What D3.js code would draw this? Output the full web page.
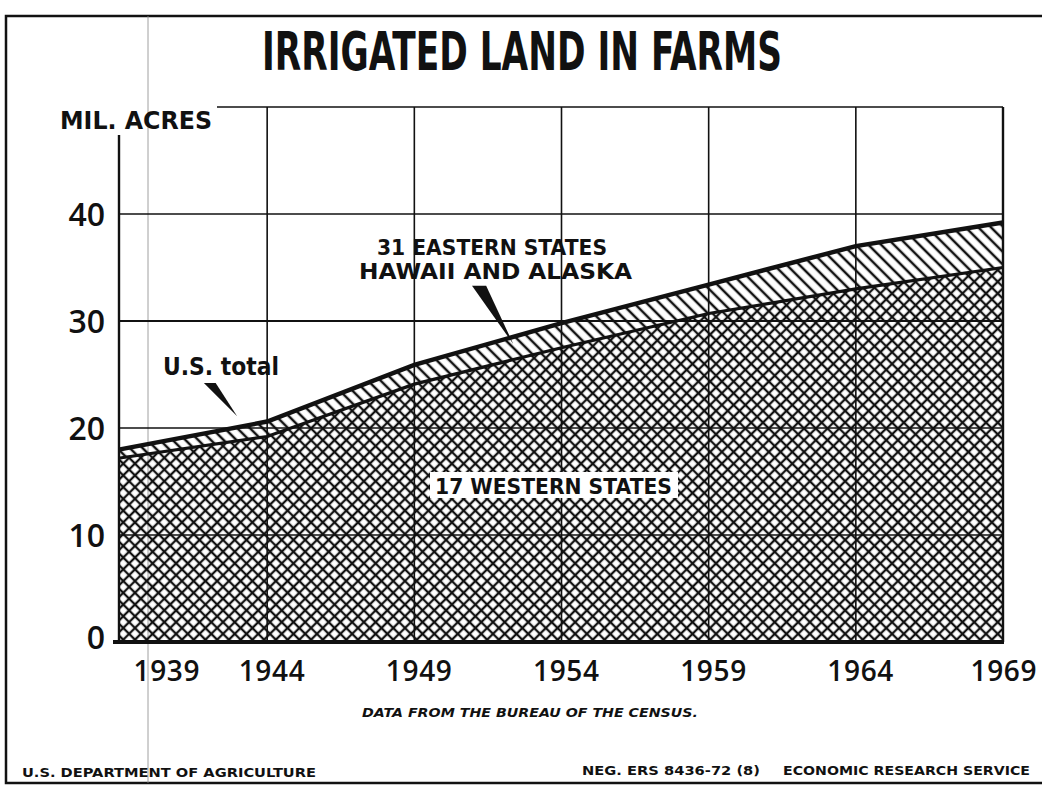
<!DOCTYPE html>
<html>
<head>
<meta charset="utf-8">
<script src="https://cdn.jsdelivr.net/npm/d3@7"></script>
<style>
  body { margin: 0; background: #fff; }
  svg { display: block; }
  text { fill: #111; }
</style>
</head>
<body>
<svg id="chart" width="1042" height="789"></svg>
<script>
// census years and acreage (million acres)
var years = [1939, 1944, 1949, 1954, 1959, 1964, 1969];
var usTotal = [18.0, 20.6, 25.9, 29.8, 33.4, 37.0, 39.2];
var western = [17.2, 19.2, 24.1, 27.5, 30.7, 33.0, 35.0];
var yTicks = [0, 10, 20, 30, 40];
var gridValues = [10, 20, 30, 40, 50];

// annotation pointers, in [year, value]
var totalPointer = [[1941.85, 24.2], [1942.25, 24.2], [1942.98, 21.1]];
var easternPointer = [[1950.96, 33.3], [1951.44, 33.3], [1952.36, 27.85]];

var svg = d3.select("#chart");

var x = d3.scaleLinear().domain([1939, 1969]).range([120, 1003]);
var y = d3.scaleLinear().domain([0, 50]).range([642, 107]);

var data = years.map(function(d, i) {
    return {year: d, total: usTotal[i], west: western[i]};
});

// patterns
var defs = svg.append("defs");
var cs = 8.3, cw = 2.3;
var cross = defs.append("pattern")
    .attr("id", "cross")
    .attr("patternUnits", "userSpaceOnUse")
    .attr("width", cs).attr("height", cs)
    .attr("patternTransform", "rotate(45)");
[0, cs].forEach(function(p) {
    cross.append("line").attr("x1", p).attr("y1", -1).attr("x2", p).attr("y2", cs + 1)
        .attr("stroke", "#111").attr("stroke-width", cw);
    cross.append("line").attr("x1", -1).attr("y1", p).attr("x2", cs + 1).attr("y2", p)
        .attr("stroke", "#111").attr("stroke-width", cw);
});

var hs = 9;
var hatch = defs.append("pattern")
    .attr("id", "hatch")
    .attr("patternUnits", "userSpaceOnUse")
    .attr("width", hs).attr("height", hs)
    .attr("patternTransform", "rotate(-45)");
[0, hs].forEach(function(p) {
    hatch.append("line").attr("x1", p).attr("y1", -1).attr("x2", p).attr("y2", hs + 1)
        .attr("stroke", "#111").attr("stroke-width", 2.5);
});

// frame
svg.append("path")
    .attr("d", "M1042,16 L6,16 L6,783 L1042,783")
    .attr("fill", "none").attr("stroke", "#111").attr("stroke-width", 2.5);

// scan line artifact
svg.append("line")
    .attr("x1", 148).attr("x2", 148).attr("y1", 16).attr("y2", 783)
    .attr("stroke", "#888").attr("stroke-width", 0.8);

// areas
var westArea = d3.area()
    .x(function(d) { return x(d.year); })
    .y0(y(0))
    .y1(function(d) { return y(d.west); });

var eastArea = d3.area()
    .x(function(d) { return x(d.year); })
    .y0(function(d) { return y(d.west); })
    .y1(function(d) { return y(d.total); });

svg.append("path").datum(data).attr("d", westArea).attr("fill", "url(#cross)");
svg.append("path").datum(data).attr("d", eastArea).attr("fill", "url(#hatch)");

// grid
svg.selectAll(".hgrid")
    .data(gridValues)
    .enter().append("line")
        .attr("class", "hgrid")
        .attr("x1", function(d) { return d == 50 ? 217 : x(1939); })
        .attr("x2", x(1969))
        .attr("y1", function(d) { return y(d); })
        .attr("y2", function(d) { return y(d); })
        .attr("stroke", "#111")
        .attr("stroke-width", function(d) { return d == 30 ? 2 : 1.6; });

svg.selectAll(".vgrid")
    .data(years.slice(1))
    .enter().append("line")
        .attr("class", "vgrid")
        .attr("x1", function(d) { return x(d); })
        .attr("x2", function(d) { return x(d); })
        .attr("y1", y(50))
        .attr("y2", y(0))
        .attr("stroke", "#111")
        .attr("stroke-width", function(d) { return d == 1969 ? 2.4 : 1.6; });

// boundary lines
var totalLine = d3.line()
    .x(function(d) { return x(d.year); })
    .y(function(d) { return y(d.total); });
var westLine = d3.line()
    .x(function(d) { return x(d.year); })
    .y(function(d) { return y(d.west); });

svg.append("path").datum(data).attr("d", totalLine)
    .attr("fill", "none").attr("stroke", "#111").attr("stroke-width", 4.5);
svg.append("path").datum(data).attr("d", westLine)
    .attr("fill", "none").attr("stroke", "#111").attr("stroke-width", 3.2);

// y axis line and baseline
svg.append("line")
    .attr("x1", x(1939) - 1).attr("x2", x(1939) - 1)
    .attr("y1", 135).attr("y2", y(0))
    .attr("stroke", "#111").attr("stroke-width", 2.4);
svg.append("line")
    .attr("x1", 113).attr("x2", x(1969) + 1)
    .attr("y1", y(0)).attr("y2", y(0))
    .attr("stroke", "#111").attr("stroke-width", 4);

// y labels
var yAxis = svg.append("g")
    .attr("transform", "translate(" + x(1939) + ",0)")
    .call(d3.axisLeft(y).tickValues(yTicks).tickSize(0).tickPadding(15));
yAxis.select(".domain").remove();
yAxis.selectAll("text")
    .attr("font-family", "'Open Sans', sans-serif")
    .attr("font-weight", 600)
    .attr("font-size", 32)
    .attr("fill", "#111")
    .attr("dy", function(d) { return d == 0 ? "0.2em" : "0.36em"; });

// x labels
var xAxis = svg.append("g")
    .attr("transform", "translate(0," + y(0) + ")")
    .call(d3.axisBottom(x).tickValues(years).tickSize(0).tickFormat(d3.format("d")));
xAxis.select(".domain").remove();
xAxis.selectAll("text")
    .attr("font-family", "'Open Sans', sans-serif")
    .attr("font-weight", 600)
    .attr("font-size", 28)
    .attr("fill", "#111")
    .attr("y", 39)
    .attr("dy", 0)
    .attr("textLength", 66)
    .attr("lengthAdjust", "spacing")
    .attr("x", function(d) { return d == 1939 ? 13 : (d == 1969 ? 0 : 4); })
    .attr("text-anchor", function(d) { return d == 1939 ? "start" : "middle"; });

// pointers
function toPts(p) {
    return p.map(function(d) { return [x(d[0]), y(d[1])]; }).join(" ");
}
svg.append("polygon").attr("points", toPts(totalPointer)).attr("fill", "#111");
svg.append("polygon").attr("points", toPts(easternPointer)).attr("fill", "#111");

// texts
function label(txt, tx, ty, size, len, opts) {
    opts = opts || {};
    var t = svg.append("text")
        .attr("x", tx).attr("y", ty)
        .attr("font-family", opts.family || "'DejaVu Sans', sans-serif")
        .attr("font-weight", opts.weight || "bold")
        .attr("font-size", size)
        .attr("textLength", len)
        .attr("lengthAdjust", "spacingAndGlyphs")
        .text(txt);
    if (opts.italic) t.attr("font-style", "italic");
    return t;
}

label("IRRIGATED LAND IN FARMS", 262, 70, 54, 520,
    {family: "'Liberation Sans Narrow', 'DejaVu Sans Condensed', sans-serif"});
label("MIL. ACRES", 60, 129, 25, 152);
label("U.S. total", 163, 375, 25, 116);
label("31 EASTERN STATES", 377, 255, 21, 230);
label("HAWAII AND ALASKA", 359, 279, 21, 273);

svg.append("rect")
    .attr("x", 430).attr("y", 472).attr("width", 248).attr("height", 26)
    .attr("fill", "#fff");
label("17 WESTERN STATES", 435, 494, 22, 237);

label("DATA FROM THE BUREAU OF THE CENSUS.", 362, 717, 12, 336, {italic: true});
label("U.S. DEPARTMENT OF AGRICULTURE", 22, 777, 13, 294);
label("NEG. ERS 8436-72 (8)", 582, 775, 13, 178);
label("ECONOMIC RESEARCH SERVICE", 783, 775, 13, 247);
</script>
</body>
</html>
